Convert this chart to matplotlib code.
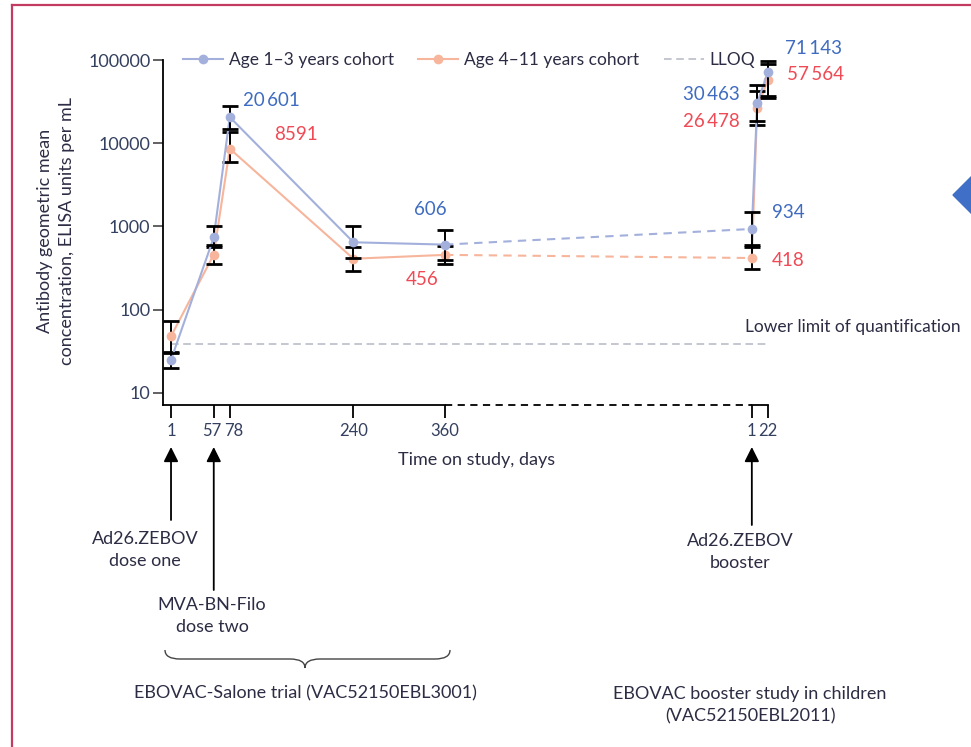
import matplotlib
matplotlib.use("Agg")
import matplotlib.pyplot as plt
import matplotlib.transforms as mtransforms
from matplotlib.lines import Line2D
from matplotlib.patches import Polygon, PathPatch
from matplotlib.path import Path
import numpy as np

plt.rcParams['font.family'] = ['Lato', 'DejaVu Sans']

# booster-study days are drawn after the main trial, shifted by this offset
BOOST = 761

main_days = [1, 57, 78, 240, 360]
boost_days = [1, 8, 22]
main_ticks = ["1", "57", "78", "240", "360"]
boost_ticks = ["1", "22"]

# Age 1-3 years cohort (GMC, 95% CI)
young_gmc = [25, 740, 20601, 646, 606, 934, 30463, 71143]
young_lo = [20, 600, 15000, 420, 400, 600, 18500, 37000]
young_hi = [30, 1000, 28000, 1000, 920, 1500, 50000, 97000]

# Age 4-11 years cohort
old_gmc = [48, 460, 8591, 410, 456, 418, 26478, 57564]
old_lo = [31, 350, 6000, 290, 350, 310, 16500, 35000]
old_hi = [73, 560, 13500, 570, 590, 560, 43000, 90000]

lloq = 39

young_labels = {2: "20\u2009601", 4: "606", 5: "934", 6: "30\u2009463", 7: "71\u2009143"}
old_labels = {2: "8591", 4: "456", 5: "418", 6: "26\u2009478", 7: "57\u2009564"}

BLUE = "#a3b0dc"
ORANGE = "#f7b59c"
BLUE_TXT = "#3f6cc0"
RED_TXT = "#ef4a55"
DARK = "#2c2c44"
TICK_TXT = "#34405f"

W, H = 971, 747
fig = plt.figure(figsize=(W / 100, H / 100), dpi=100)


def fx(px):
    return px / W


def fy(py):
    return 1 - py / H


ax = fig.add_axes([fx(163), fy(405), fx(790) - fx(163), fy(55) - fy(405)])
ax.set_yscale("log")
ax.set_xlim(-9.5, 812)
ylo = 10 ** (1 - 12 / 83)
ax.set_ylim(ylo, 10 ** (5 + 5 / 83))

xs = np.array(main_days + [BOOST + d for d in boost_days])


def draw_series(gmc, lo, hi, color, zo):
    gmc = np.array(gmc)
    ax.plot(xs[:5], gmc[:5], color=color, lw=1.5, zorder=zo)
    ax.plot(xs[4:6], gmc[4:6], color=color, lw=1.5, ls=(0, (4, 3)), zorder=zo)
    ax.plot(xs[5:], gmc[5:], color=color, lw=1.5, zorder=zo)
    err = [gmc - np.array(lo), np.array(hi) - gmc]
    ax.errorbar(xs, gmc, yerr=err, fmt="none", ecolor="black", elinewidth=1.4,
                capsize=6, capthick=2.0, zorder=zo + 1, clip_on=False)
    ax.plot(xs, gmc, "o", color=color, ms=7, mec="none", zorder=zo + 2, clip_on=False)


draw_series(old_gmc, old_lo, old_hi, ORANGE, 3)
draw_series(young_gmc, young_lo, young_hi, BLUE, 6)

# lower limit of quantification
ax.plot([xs[0], xs[-1]], [lloq, lloq], color="#b4b8c2", lw=1.1, ls=(0, (5, 3)), zorder=1)
ax.text(xs[5] - 9, lloq * 1.6, "Lower limit of quantification", fontsize=12.5,
        color=DARK, ha="left", va="center", clip_on=False)

# value labels
y_off = {2: (13, 17, "left"), 4: (-15, 35, "center"), 5: (20, 16, "left"),
         6: (-17, 8, "right"), 7: (17, 24, "left")}
o_off = {2: (44, 14, "left"), 4: (-23, -25, "center"), 5: (20, -2, "left"),
         6: (-17, -13, "right"), 7: (19, 5, "left")}
for i, txt in young_labels.items():
    dx, dy, ha = y_off[i]
    ax.annotate(txt, (xs[i], young_gmc[i]), xytext=(dx, dy), textcoords="offset pixels",
                ha=ha, va="center", fontsize=13.5, color=BLUE_TXT, annotation_clip=False)
for i, txt in old_labels.items():
    dx, dy, ha = o_off[i]
    ax.annotate(txt, (xs[i], old_gmc[i]), xytext=(dx, dy), textcoords="offset pixels",
                ha=ha, va="center", fontsize=13.5, color=RED_TXT, annotation_clip=False)

# axes styling
for s in ["top", "right", "bottom"]:
    ax.spines[s].set_visible(False)
ax.spines["left"].set_bounds(ylo, 1e5)
ax.spines["left"].set_linewidth(1.3)
ax.set_yticks([10, 100, 1000, 10000, 100000])
ax.set_yticklabels(["10", "100", "1000", "10000", "100000"])
ax.yaxis.set_minor_locator(matplotlib.ticker.NullLocator())
ax.tick_params(axis="y", length=7, width=1.3, color="#555555", labelsize=13,
               labelcolor=TICK_TXT, pad=2)
ax.set_xticks(list(xs[:5]) + [xs[5], xs[7]])
ax.set_xticklabels(main_ticks + boost_ticks)
ax.tick_params(axis="x", length=9, width=1.3, color="black", labelsize=12,
               labelcolor=TICK_TXT, pad=4)
# nudge the crowded 57 / 78 labels apart a little
xlabels = ax.get_xticklabels()
for lab, dx in [(xlabels[1], -2), (xlabels[2], 4)]:
    lab.set_transform(lab.get_transform() +
                      mtransforms.ScaledTranslation(dx / 100, 0, fig.dpi_scale_trans))

# broken x axis: solid, dashed gap, solid
trans = mtransforms.blended_transform_factory(ax.transData, ax.transAxes)
ax.plot([-9.5, 360], [0, 0], color="black", lw=1.3, transform=trans, clip_on=False)
ax.plot([360, xs[5]], [0, 0], color="black", lw=1.3, ls=(0, (4, 3)), transform=trans, clip_on=False)
ax.plot([xs[5], xs[7]], [0, 0], color="black", lw=1.3, transform=trans, clip_on=False)

ax.set_xlabel("Time on study, days", fontsize=13, color=DARK, labelpad=9)
fig.text(fx(56), fy(231), "Antibody geometric mean\nconcentration, ELISA units per mL",
         rotation=90, ha="center", va="center", fontsize=13, color=DARK,
         multialignment="center", linespacing=1.5)

# legend
handles = [
    Line2D([], [], color=BLUE, lw=1.5, marker="o", ms=7, mec="none"),
    Line2D([], [], color=ORANGE, lw=1.5, marker="o", ms=7, mec="none"),
    Line2D([], [], color="#b4b8c2", lw=1.1, ls=(0, (5, 3))),
]
fig.legend(handles, ["Age 1\u20133 years cohort", "Age 4\u201311 years cohort", "LLOQ"],
           loc="center left", bbox_to_anchor=(fx(183), fy(60)), ncol=3, frameon=False,
           fontsize=12.5, labelcolor=DARK, handlelength=2.3, handletextpad=0.35,
           columnspacing=1.4, borderaxespad=0, borderpad=0)

# dose arrows
arrow_kw = dict(arrowstyle="-|>", mutation_scale=22, lw=1.3, color="black", shrinkA=0, shrinkB=0)
for xv, tail in [(xs[0], 520), (xs[1], 590), (xs[5], 525)]:
    ax.annotate("", xy=(xv, fy(447)), xytext=(xv, fy(tail)),
                xycoords=("data", "figure fraction"), textcoords=("data", "figure fraction"),
                arrowprops=arrow_kw, annotation_clip=False)

fig.text(fx(145), fy(550), "Ad26.ZEBOV\ndose one", ha="center", va="center",
         fontsize=13, color=DARK, linespacing=1.5)
fig.text(fx(212), fy(616), "MVA-BN-Filo\ndose two", ha="center", va="center",
         fontsize=13, color=DARK, linespacing=1.5)
fig.text(fx(740), fy(552), "Ad26.ZEBOV\nbooster", ha="center", va="center",
         fontsize=13, color=DARK, linespacing=1.5)

# curly brace under the main trial
bx0, bx1, btip = 165, 450, 305
top, mid, tip = 650, 659, 668
pts = [(bx0, top), (bx0, mid), (bx0 + 15, mid), (btip - 15, mid),
       (btip, mid), (btip, tip), (btip, mid), (btip + 15, mid),
       (bx1 - 15, mid), (bx1, mid), (bx1, top)]
codes = [Path.MOVETO, Path.CURVE3, Path.CURVE3, Path.LINETO,
         Path.CURVE3, Path.CURVE3, Path.CURVE3, Path.CURVE3,
         Path.LINETO, Path.CURVE3, Path.CURVE3]
brace = Path([(fx(x), fy(y)) for x, y in pts], codes)
fig.add_artist(PathPatch(brace, fill=False, lw=1.0, color="#444444", transform=fig.transFigure))

fig.text(fx(305), fy(693), "EBOVAC-Salone trial (VAC52150EBL3001)", ha="center", va="center",
         fontsize=13, color=DARK)
fig.text(fx(750), fy(705), "EBOVAC booster study in children\n(VAC52150EBL2011)", ha="center",
         va="center", fontsize=13, color=DARK, linespacing=1.5)

# page frame and side marker from the screenshot
fig.add_artist(Line2D([fx(12), fx(12)], [0, fy(4.5)], transform=fig.transFigure,
                      color="#c43a60", lw=1.6))
fig.add_artist(Line2D([fx(12), 1], [fy(4.5), fy(4.5)], transform=fig.transFigure,
                      color="#c43a60", lw=1.6))
fig.add_artist(Polygon([(fx(953), fy(195)), (fx(975), fy(173)), (fx(997), fy(195)),
                        (fx(975), fy(217))], closed=True, transform=fig.transFigure,
                       color="#3f6fc6"))

fig.savefig("out.png", dpi=100)
